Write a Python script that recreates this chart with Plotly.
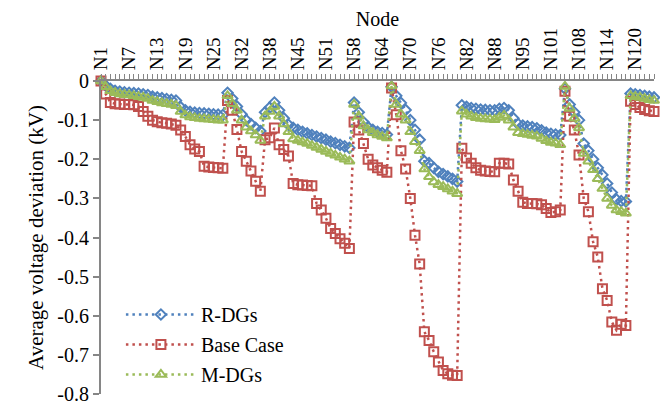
import plotly.graph_objects as go

MISSING = [28, 41, 55, 92, 105]
NODES = [f"N{i}" for i in range(1, 125) if i not in MISSING]
TICK_LABELS = ["N1", "N7", "N13", "N19", "N25", "N32", "N38", "N45", "N51", "N58",
               "N64", "N70", "N76", "N82", "N88", "N95", "N101", "N108", "N114", "N120"]

R_DGS = [0, -0.012, -0.02, -0.025, -0.027, -0.029, -0.03, -0.031, -0.032, -0.034, -0.036, -0.04, -0.042, -0.044,
         -0.046, -0.048, -0.05, -0.067, -0.075, -0.079, -0.081, -0.082, -0.083, -0.084, -0.085, -0.086, -0.087,
         -0.03, -0.045, -0.065, -0.085, -0.1, -0.11, -0.12, -0.128,
         -0.08, -0.068, -0.055, -0.075, -0.095, -0.112, -0.12, -0.125, -0.13, -0.134, -0.138, -0.142, -0.146,
         -0.15, -0.155, -0.159, -0.163, -0.167, -0.171,
         -0.055, -0.08, -0.105, -0.118, -0.125, -0.13, -0.133, -0.137,
         -0.015, -0.038, -0.056, -0.074, -0.1, -0.125, -0.15, -0.205, -0.21, -0.222, -0.232, -0.238, -0.244,
         -0.25, -0.257,
         -0.062, -0.066, -0.069, -0.071, -0.073, -0.074, -0.075, -0.075, -0.071, -0.069, -0.075, -0.095, -0.11,
         -0.114, -0.116, -0.118, -0.121, -0.126, -0.132, -0.135, -0.137, -0.138,
         -0.02, -0.06, -0.08, -0.1, -0.16, -0.178, -0.2, -0.222, -0.24, -0.262, -0.285, -0.303, -0.307, -0.308,
         -0.032, -0.034, -0.036, -0.038, -0.04, -0.042]

BASE_CASE = [0, -0.033, -0.055, -0.058, -0.059, -0.06, -0.06, -0.061, -0.065, -0.078, -0.09, -0.1, -0.104, -0.107,
             -0.108, -0.11, -0.113, -0.125, -0.142, -0.163, -0.174, -0.18, -0.218, -0.22, -0.221, -0.222, -0.223,
             -0.05, -0.075, -0.124, -0.18, -0.205, -0.23, -0.256, -0.282,
             -0.15, -0.145, -0.12, -0.163, -0.175, -0.192, -0.262, -0.265, -0.266, -0.267, -0.268, -0.313, -0.33,
             -0.351, -0.377, -0.39, -0.403, -0.415, -0.428,
             -0.105, -0.125, -0.16, -0.2, -0.215, -0.222, -0.228, -0.233,
             -0.018, -0.086, -0.178, -0.225, -0.3, -0.394, -0.468, -0.641, -0.663, -0.692, -0.718, -0.74, -0.748,
             -0.752, -0.753,
             -0.172, -0.197, -0.21, -0.222, -0.228, -0.23, -0.231, -0.232, -0.21, -0.21, -0.212, -0.253, -0.282,
             -0.31, -0.313, -0.313, -0.314, -0.316, -0.326, -0.336, -0.334, -0.33,
             -0.026, -0.09, -0.125, -0.189, -0.3, -0.334, -0.411, -0.45, -0.531, -0.561, -0.616, -0.637, -0.622,
             -0.625,
             -0.052, -0.06, -0.068, -0.073, -0.076, -0.078]

M_DGS = [0, -0.015, -0.025, -0.03, -0.033, -0.035, -0.036, -0.038, -0.04, -0.042, -0.045, -0.05, -0.053, -0.056,
         -0.058, -0.06, -0.063, -0.078, -0.087, -0.092, -0.094, -0.096, -0.097, -0.098, -0.099, -0.1, -0.1,
         -0.038, -0.058, -0.075, -0.1, -0.118, -0.128, -0.138, -0.152,
         -0.09, -0.078, -0.065, -0.09, -0.11, -0.13, -0.148, -0.152, -0.156, -0.16, -0.165, -0.17, -0.175,
         -0.18, -0.185, -0.19, -0.195, -0.2, -0.205,
         -0.06, -0.09, -0.115, -0.125, -0.132, -0.138, -0.142, -0.146,
         -0.013, -0.06, -0.085, -0.1, -0.13, -0.155, -0.178, -0.225, -0.245, -0.258, -0.265, -0.27, -0.276,
         -0.282, -0.288,
         -0.077, -0.085, -0.09, -0.094, -0.096, -0.097, -0.098, -0.099, -0.093, -0.088, -0.1, -0.118, -0.132,
         -0.135, -0.137, -0.139, -0.141, -0.147, -0.153, -0.157, -0.159, -0.163,
         -0.014, -0.07, -0.095, -0.12, -0.185, -0.205, -0.227, -0.25, -0.275, -0.3, -0.318, -0.33, -0.334, -0.338,
         -0.038, -0.04, -0.042, -0.045, -0.048, -0.05]

Y_TICKS = [0, -0.1, -0.2, -0.3, -0.4, -0.5, -0.6, -0.7, -0.8]
Y_TICK_TEXT = ["0", "-0.1", "-0.2", "-0.3", "-0.4", "-0.5", "-0.6", "-0.7", "-0.8"]

SERIES = [
    ("R-DGs", R_DGS, "#4F81BD", "diamond-open", 8),
    ("Base Case", BASE_CASE, "#C0504D", "square-open", 9),
    ("M-DGs", M_DGS, "#9BBB59", "triangle-up-open", 9),
]

fig = go.Figure()
for name, vals, color, symbol, size in SERIES:
    fig.add_trace(go.Scatter(
        x=NODES, y=vals, name=name, mode="lines+markers", legendgroup=name,
        line=dict(color=color, width=2.5, dash="2.5px,4px"),
        marker=dict(symbol=symbol, size=size, color=color, line=dict(color=color, width=2)),
        cliponaxis=False,
    ))

AX = "#868686"
SERIF = "Liberation Serif"
fig.update_layout(
    width=660, height=396,
    margin=dict(l=93, r=14, t=73, b=10, autoexpand=False),
    plot_bgcolor="white", paper_bgcolor="white",
    font=dict(family=SERIF, size=20, color="black"),
    showlegend=True,
    legend=dict(x=0.036, y=0.0, xanchor="left", yanchor="bottom", bgcolor="rgba(0,0,0,0)",
                itemwidth=70, tracegroupgap=1, font=dict(family=SERIF, size=20)),
    xaxis=dict(
        type="category", side="top", range=[0, len(NODES) - 1], automargin=False,
        tickmode="array", tickvals=NODES,
        ticktext=[n if n in TICK_LABELS else "" for n in NODES],
        tickangle=-90, ticks="outside", ticklen=5, tickwidth=1, tickcolor=AX,
        showline=True, linecolor=AX, linewidth=2, showgrid=False, zeroline=False,
        title=dict(text="Node", standoff=4, font=dict(family=SERIF, size=20)),
        tickfont=dict(family=SERIF, size=19),
    ),
    yaxis=dict(
        range=[-0.8, 0], tickmode="array", tickvals=Y_TICKS, ticktext=Y_TICK_TEXT, automargin=False,
        ticklabeloverflow="allow",
        ticks="outside", ticklen=6, tickwidth=2, tickcolor=AX,
        showline=True, linecolor=AX, linewidth=2, showgrid=False, zeroline=False,
        title=dict(text="Average voltage deviation (kV)", standoff=8, font=dict(family=SERIF, size=21)),
        tickfont=dict(family=SERIF, size=20),
    ),
)

fig.write_html("out.html")
